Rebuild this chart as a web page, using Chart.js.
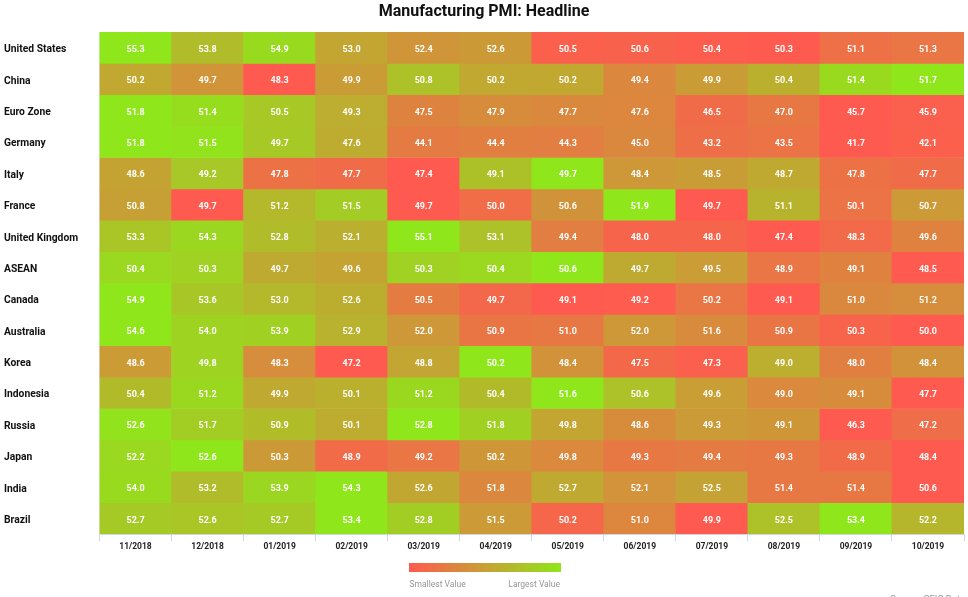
<!DOCTYPE html>
<html>
<head>
<meta charset="utf-8">
<title>Manufacturing PMI: Headline</title>
<script src="https://cdn.jsdelivr.net/npm/chart.js@4/dist/chart.umd.min.js"></script>
<style>
  html, body { margin: 0; padding: 0; background: #fff; overflow: hidden; }
  #wrap { width: 968px; height: 597px; position: relative; }
</style>
</head>
<body>
<div id="wrap"><canvas id="pmiChart" width="968" height="597"></canvas></div>
<script>
// ---------- Data ----------
const months = ['11/2018', '12/2018', '01/2019', '02/2019', '03/2019', '04/2019',
  '05/2019', '06/2019', '07/2019', '08/2019', '09/2019', '10/2019'];
const countries = ['United States', 'China', 'Euro Zone', 'Germany', 'Italy', 'France',
  'United Kingdom', 'ASEAN', 'Canada', 'Australia', 'Korea', 'Indonesia', 'Russia',
  'Japan', 'India', 'Brazil'];

const unitedStates = [55.3, 53.8, 54.9, 53.0, 52.4, 52.6, 50.5, 50.6, 50.4, 50.3, 51.1, 51.3];
const china = [50.2, 49.7, 48.3, 49.9, 50.8, 50.2, 50.2, 49.4, 49.9, 50.4, 51.4, 51.7];
const euroZone = [51.8, 51.4, 50.5, 49.3, 47.5, 47.9, 47.7, 47.6, 46.5, 47.0, 45.7, 45.9];
const germany = [51.8, 51.5, 49.7, 47.6, 44.1, 44.4, 44.3, 45.0, 43.2, 43.5, 41.7, 42.1];
const italy = [48.6, 49.2, 47.8, 47.7, 47.4, 49.1, 49.7, 48.4, 48.5, 48.7, 47.8, 47.7];
const france = [50.8, 49.7, 51.2, 51.5, 49.7, 50.0, 50.6, 51.9, 49.7, 51.1, 50.1, 50.7];
const unitedKingdom = [53.3, 54.3, 52.8, 52.1, 55.1, 53.1, 49.4, 48.0, 48.0, 47.4, 48.3, 49.6];
const asean = [50.4, 50.3, 49.7, 49.6, 50.3, 50.4, 50.6, 49.7, 49.5, 48.9, 49.1, 48.5];
const canada = [54.9, 53.6, 53.0, 52.6, 50.5, 49.7, 49.1, 49.2, 50.2, 49.1, 51.0, 51.2];
const australia = [54.6, 54.0, 53.9, 52.9, 52.0, 50.9, 51.0, 52.0, 51.6, 50.9, 50.3, 50.0];
const korea = [48.6, 49.8, 48.3, 47.2, 48.8, 50.2, 48.4, 47.5, 47.3, 49.0, 48.0, 48.4];
const indonesia = [50.4, 51.2, 49.9, 50.1, 51.2, 50.4, 51.6, 50.6, 49.6, 49.0, 49.1, 47.7];
const russia = [52.6, 51.7, 50.9, 50.1, 52.8, 51.8, 49.8, 48.6, 49.3, 49.1, 46.3, 47.2];
const japan = [52.2, 52.6, 50.3, 48.9, 49.2, 50.2, 49.8, 49.3, 49.4, 49.3, 48.9, 48.4];
const india = [54.0, 53.2, 53.9, 54.3, 52.6, 51.8, 52.7, 52.1, 52.5, 51.4, 51.4, 50.6];
const brazil = [52.7, 52.6, 52.7, 53.4, 52.8, 51.5, 50.2, 51.0, 49.9, 52.5, 53.4, 52.2];

const rows = [unitedStates, china, euroZone, germany, italy, france, unitedKingdom, asean,
  canada, australia, korea, indonesia, russia, japan, india, brazil];

// ---------- Colours: each row runs from its own lowest to its own highest value ----------
const LOW = [255, 90, 79];
const HIGH = [143, 230, 26];

function cellColour(row, v) {
  const lo = Math.min(...row);
  const hi = Math.max(...row);
  const t = (v - lo) / (hi - lo);
  const c = LOW.map((l, i) => Math.round(l + (HIGH[i] - l) * t));
  return `rgb(${c[0]},${c[1]},${c[2]})`;
}

// Every row is one stacked band of height 1, so the cells fill the plot
const datasets = rows.map((row, i) => ({
  label: countries[i],
  data: row.map(() => 1),
  pmi: row,
  backgroundColor: row.map(v => cellColour(row, v)),
  borderWidth: 0,
  barPercentage: 1,
  categoryPercentage: 1
}));

// ---------- Cell values, gradient key and source line ----------
const pmiOverlay = {
  id: 'pmiOverlay',
  afterDatasetsDraw(chart) {
    const ctx = chart.ctx;
    ctx.save();
    ctx.fillStyle = '#fff';
    ctx.font = 'bold 9px Roboto';
    ctx.textAlign = 'center';
    ctx.textBaseline = 'middle';
    chart.data.datasets.forEach((ds, d) => {
      chart.getDatasetMeta(d).data.forEach((bar, i) => {
        ctx.fillText(ds.pmi[i].toFixed(1), bar.x, (bar.y + bar.base) / 2 + 2);
      });
    });

    const g = ctx.createLinearGradient(409, 0, 561, 0);
    g.addColorStop(0, `rgb(${LOW})`);
    g.addColorStop(1, `rgb(${HIGH})`);
    ctx.fillStyle = g;
    ctx.fillRect(409, 563, 152, 9);

    ctx.fillStyle = '#969696';
    ctx.font = '8.5px Roboto';
    ctx.textAlign = 'left';
    ctx.fillText('Smallest Value', 409.5, 584.5);
    ctx.textAlign = 'right';
    ctx.fillText('Largest Value', 560, 584.5);
    ctx.font = '9.3px Roboto';
    ctx.fillText('Source: CEIC Data', 965, 599.5);
    ctx.restore();
  }
};

// ---------- Heatmap ----------
new Chart(document.getElementById('pmiChart'), {
  type: 'bar',
  data: { labels: months, datasets },
  plugins: [pmiOverlay],
  options: {
    responsive: false,
    animation: false,
    layout: { padding: { left: 4, right: 4, top: 0, bottom: 0 } },
    plugins: {
      legend: { display: false },
      tooltip: { enabled: false },
      title: {
        display: true,
        text: 'Manufacturing PMI: Headline',
        color: '#111',
        font: { family: 'Roboto', size: 16, weight: 'bold' },
        padding: { top: 2, bottom: 10.8 }
      }
    },
    scales: {
      x: {
        stacked: true,
        offset: true,
        afterFit: s => { s.height = 63; },
        border: { color: '#ccd6eb' },
        grid: { drawOnChartArea: false, offset: true, color: '#ccd6eb', tickLength: 7 },
        ticks: { color: '#222', maxRotation: 0, padding: 1, font: { family: 'Roboto', size: 8.5, weight: 'bold' } }
      },
      y: {
        stacked: true,
        display: false,
        reverse: true,
        min: 0,
        max: countries.length
      },
      countryAxis: {
        type: 'category',
        labels: countries,
        position: 'left',
        offset: true,
        afterFit: s => { s.width = 95.5; },
        border: { display: true, color: '#e6e6e6' },
        grid: { display: false },
        ticks: {
          color: '#111',
          crossAlign: 'far',
          padding: 0,
          labelOffset: 2,
          autoSkip: false,
          font: { family: 'Roboto', size: 10.3, weight: 'bold' }
        }
      }
    }
  }
});
</script>
</body>
</html>
